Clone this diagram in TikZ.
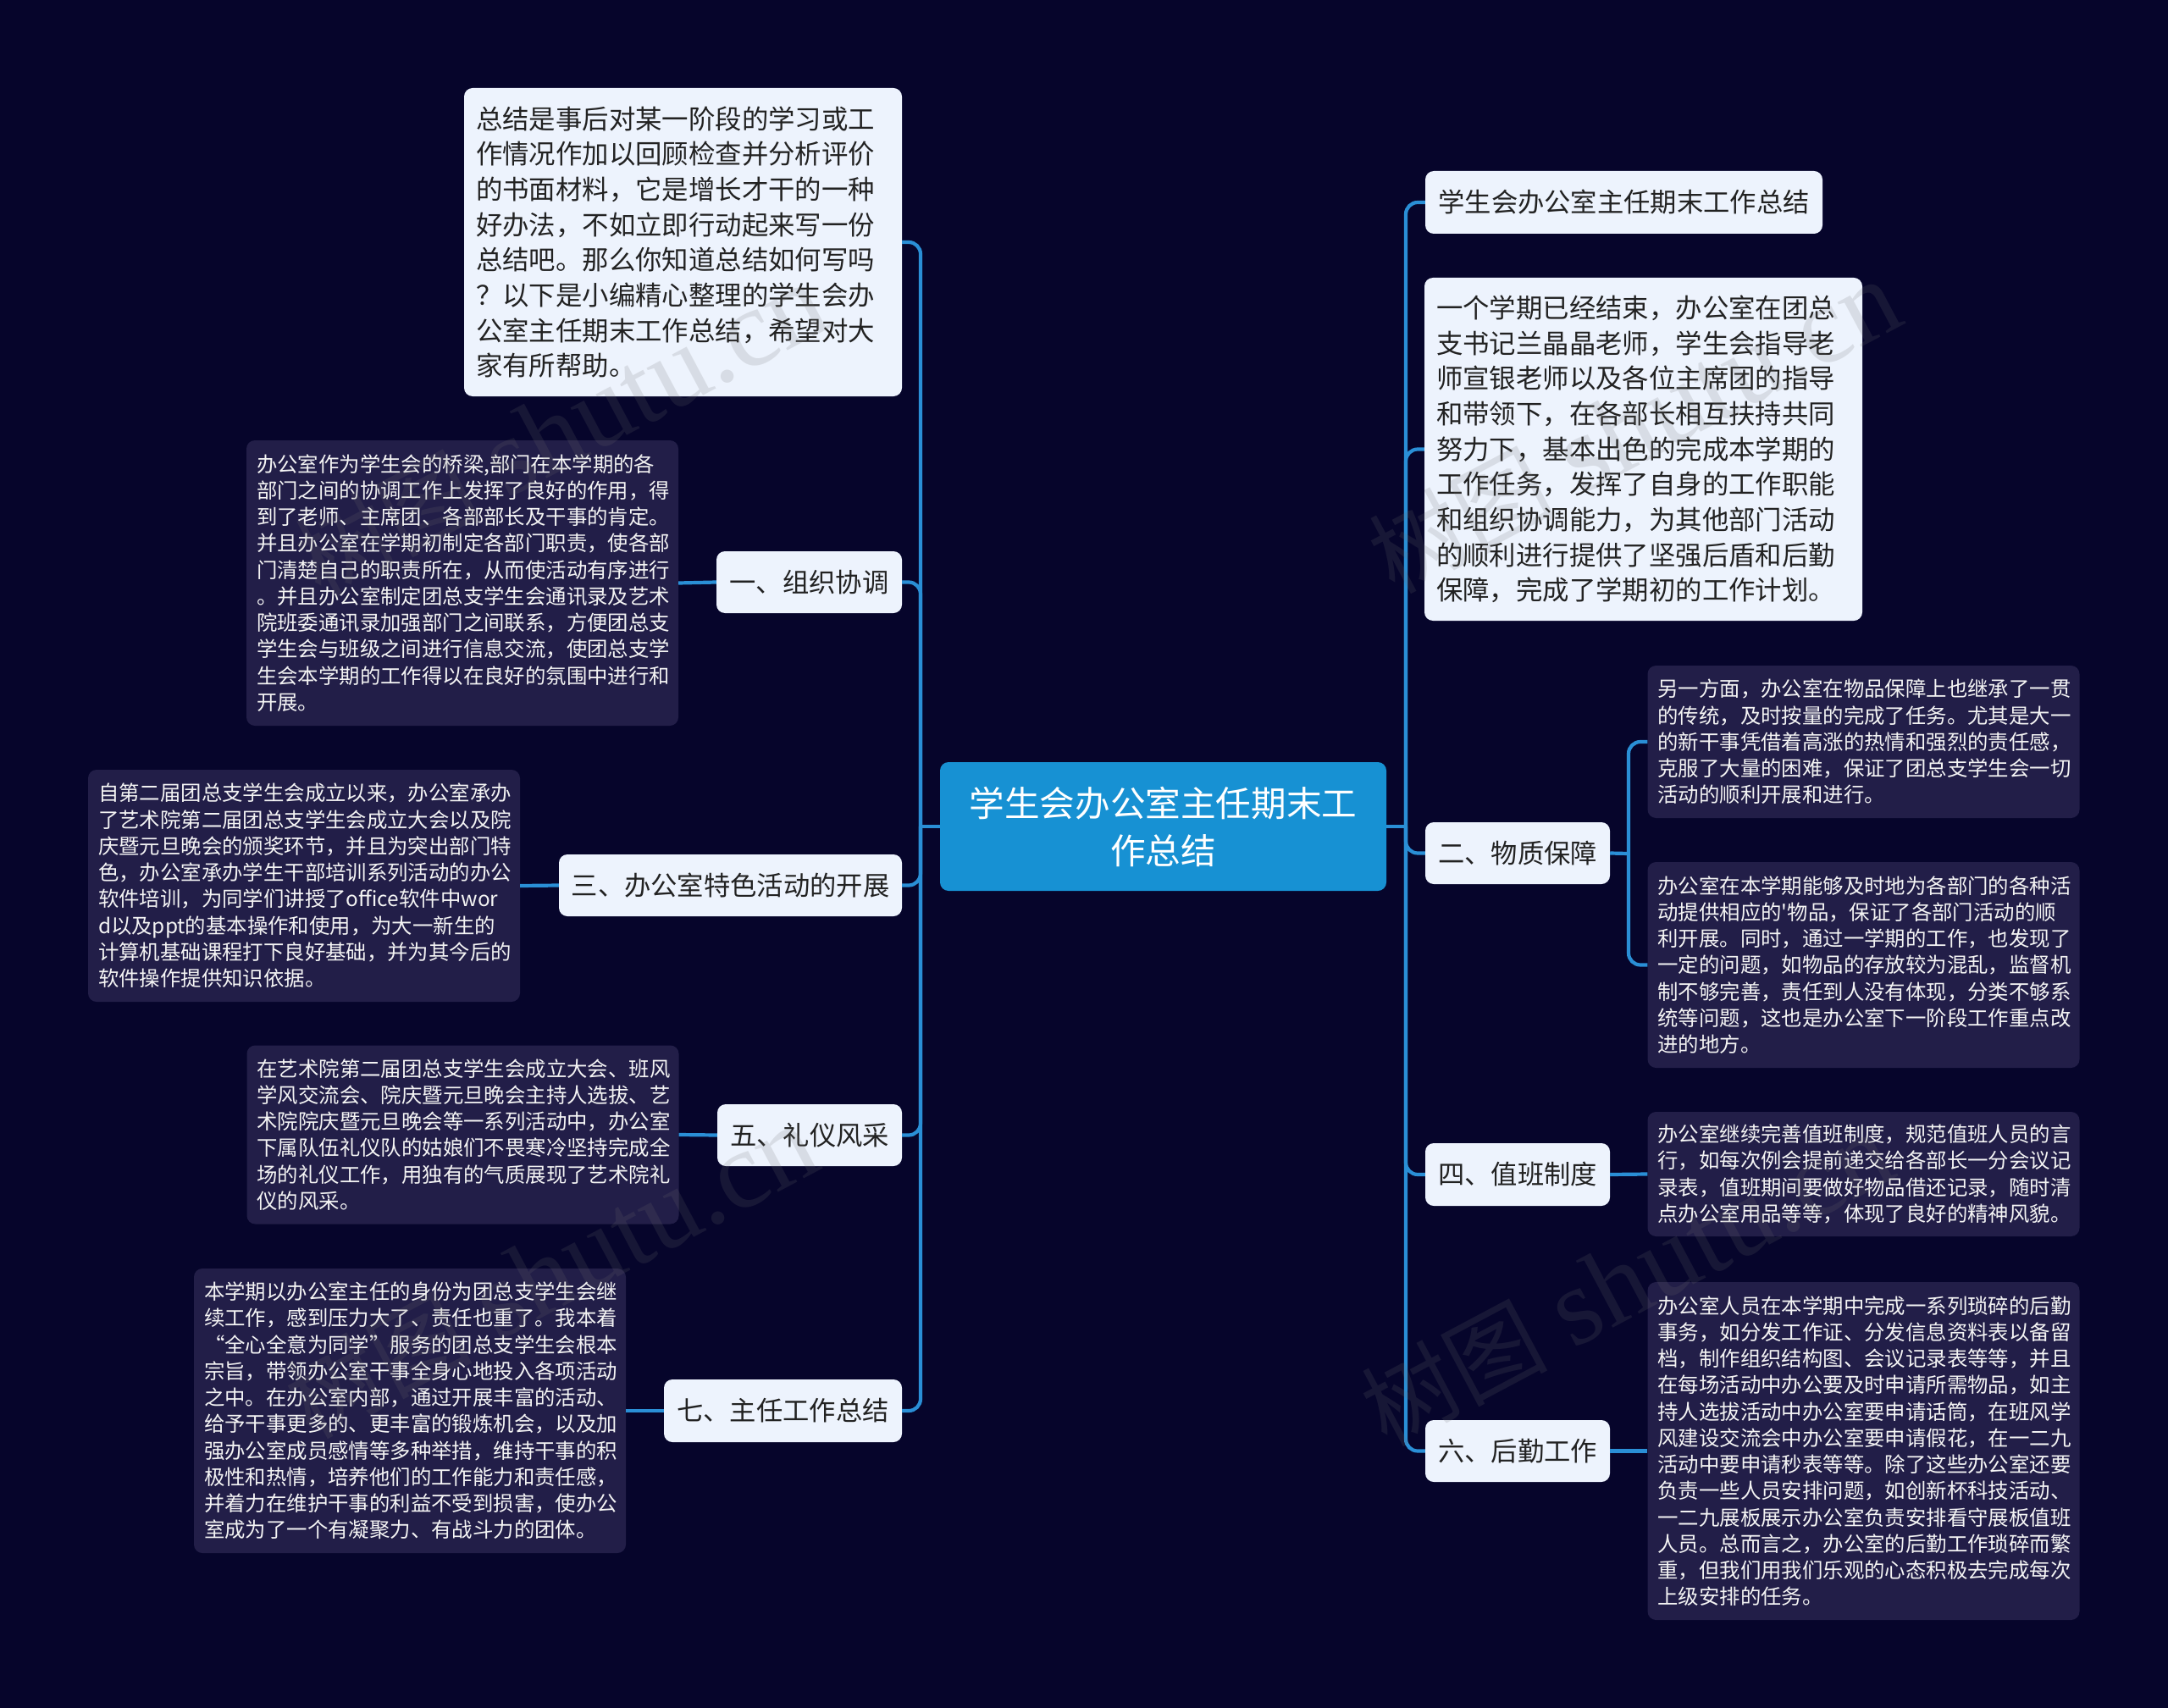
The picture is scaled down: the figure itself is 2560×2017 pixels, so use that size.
\documentclass[tikz,border=0pt]{standalone}
\usepackage{fontspec}
\setmainfont{Noto Sans CJK SC}
\newfontfamily\wmfont{Liberation Serif}
\newfontfamily\plainlatin{Noto Sans CJK SC}
\definecolor{bgc}{HTML}{06052B}
\definecolor{darkbox}{HTML}{221E48}
\definecolor{lightbox}{HTML}{EDF3FD}
\definecolor{rootc}{HTML}{1791D3}
\definecolor{linec}{HTML}{2A8FD6}
\definecolor{darktext}{HTML}{222222}
\definecolor{lighttext}{HTML}{F4F4F4}
\definecolor{wmc}{HTML}{707070}
\newcommand{\openq}{\makebox[1em][r]{“}}
\newcommand{\closeq}{\makebox[1em][l]{”}}
\newcommand{\wmtext}{{\fontsize{110}{130}\selectfont 树图} {\wmfont shutu.cn}}
\tikzset{
  x=1pt,y=-1pt,
  conn/.style={draw=linec,line width=4.2pt,rounded corners=14pt},
  plain/.style={draw=linec,line width=4.2pt},
  rootbox/.style={fill=rootc,rounded corners=10pt,text=white,align=center,inner sep=0pt,
    font=\fontsize{41.6}{56}\selectfont,minimum width=527pt,minimum height=152pt},
  topicbox/.style={fill=lightbox,rounded corners=10pt,text=darktext,inner sep=0pt,align=center,
    font=\fontsize{31.3}{41.5}\selectfont},
  textbox/.style={fill=lightbox,rounded corners=10pt,text=darktext,inner xsep=14pt,inner ysep=0pt,align=left,
    font=\fontsize{31.4}{41.7}\selectfont},
  notebox/.style={fill=darkbox,rounded corners=10pt,text=lighttext,inner xsep=12pt,inner ysep=0pt,align=left,
    text width=486pt,minimum width=510pt,font=\fontsize{24.4}{31.25}\selectfont},
  wmark/.style={text=wmc,text opacity=0.17,rotate=28,inner sep=0pt,font=\fontsize{130}{130}\selectfont}
}
\begin{document}
\begin{tikzpicture}
\useasboundingbox (0,0) rectangle (2560,2017);
\fill[bgc] (0,0) rectangle (2560,2017);
\coordinate (rt) at (1660,976);
\coordinate (lt) at (1087,976);
\coordinate (st) at (1923,1008);

\node[rootbox] (root) at (1373.5,976) {学生会办公室主任期末工\\作总结};

% left side
\node[textbox,text width=489pt,minimum width=517pt,minimum height=364pt] (intro) at (806.5,286) {总结是事后对某一阶段的学习或工\\作情况作加以回顾检查并分析评价\\的书面材料，它是增长才干的一种\\好办法，不如立即行动起来写一份\\总结吧。那么你知道总结如何写吗\\？以下是小编精心整理的学生会办\\公室主任期末工作总结，希望对大\\家有所帮助。};
\node[topicbox,minimum width=219pt,minimum height=73pt] (t1) at (955.5,687.5) {一、组织协调};
\node[topicbox,minimum width=405pt,minimum height=73pt] (t3) at (862.5,1045.5) {三、办公室特色活动的开展};
\node[topicbox,minimum width=218pt,minimum height=73pt] (t5) at (956,1340.5) {五、礼仪风采};
\node[topicbox,minimum width=281pt,minimum height=74pt] (t7) at (924.5,1666) {七、主任工作总结};

\node[notebox,minimum height=337pt] (n1) at (546,688.5) {办公室作为学生会的桥梁,部门在本学期的各\\部门之间的协调工作上发挥了良好的作用，得\\到了老师、主席团、各部部长及干事的肯定。\\并且办公室在学期初制定各部门职责，使各部\\门清楚自己的职责所在，从而使活动有序进行\\。并且办公室制定团总支学生会通讯录及艺术\\院班委通讯录加强部门之间联系，方便团总支\\学生会与班级之间进行信息交流，使团总支学\\生会本学期的工作得以在良好的氛围中进行和\\开展。};
\node[notebox,minimum height=274pt] (n3) at (359,1046) {自第二届团总支学生会成立以来，办公室承办\\了艺术院第二届团总支学生会成立大会以及院\\庆暨元旦晚会的颁奖环节，并且为突出部门特\\色，办公室承办学生干部培训系列活动的办公\\软件培训，为同学们讲授了office软件中wor\\d以及ppt的基本操作和使用，为大一新生的\\计算机基础课程打下良好基础，并为其今后的\\软件操作提供知识依据。};
\node[notebox,minimum height=211pt] (n5) at (546.5,1340) {在艺术院第二届团总支学生会成立大会、班风\\学风交流会、院庆暨元旦晚会主持人选拔、艺\\术院院庆暨元旦晚会等一系列活动中，办公室\\下属队伍礼仪队的姑娘们不畏寒冷坚持完成全\\场的礼仪工作，用独有的气质展现了艺术院礼\\仪的风采。};
\node[notebox,minimum height=336pt] (n7) at (484,1666) {本学期以办公室主任的身份为团总支学生会继\\续工作，感到压力大了、责任也重了。我本着\\\openq 全心全意为同学\closeq 服务的团总支学生会根本\\宗旨，带领办公室干事全身心地投入各项活动\\之中。在办公室内部，通过开展丰富的活动、\\给予干事更多的、更丰富的锻炼机会，以及加\\强办公室成员感情等多种举措，维持干事的积\\极性和热情，培养他们的工作能力和责任感，\\并着力在维护干事的利益不受到损害，使办公\\室成为了一个有凝聚力、有战斗力的团体。};

% right side
\node[topicbox,minimum width=469pt,minimum height=74pt] (title) at (1917.5,239) {学生会办公室主任期末工作总结};
\node[textbox,text width=489pt,minimum width=517pt,minimum height=405pt] (lead) at (1940.5,530.5) {一个学期已经结束，办公室在团总\\支书记兰晶晶老师，学生会指导老\\师宣银老师以及各位主席团的指导\\和带领下，在各部长相互扶持共同\\努力下，基本出色的完成本学期的\\工作任务，发挥了自身的工作职能\\和组织协调能力，为其他部门活动\\的顺利进行提供了坚强后盾和后勤\\保障，完成了学期初的工作计划。};
\node[topicbox,minimum width=218pt,minimum height=73pt] (t2) at (1792,1007.5) {二、物质保障};
\node[topicbox,minimum width=218pt,minimum height=74pt] (t4) at (1792,1387) {四、值班制度};
\node[topicbox,minimum width=218pt,minimum height=73pt] (t6) at (1792,1713.5) {六、后勤工作};

\node[notebox,minimum height=180pt] (n2a) at (2200.5,876) {另一方面，办公室在物品保障上也继承了一贯\\的传统，及时按量的完成了任务。尤其是大一\\的新干事凭借着高涨的热情和强烈的责任感，\\克服了大量的困难，保证了团总支学生会一切\\活动的顺利开展和进行。};
\node[notebox,minimum height=243pt] (n2b) at (2200.5,1139.5) {办公室在本学期能够及时地为各部门的各种活\\动提供相应的{\plainlatin\char39}物品，保证了各部门活动的顺\\利开展。同时，通过一学期的工作，也发现了\\一定的问题，如物品的存放较为混乱，监督机\\制不够完善，责任到人没有体现，分类不够系\\统等问题，这也是办公室下一阶段工作重点改\\进的地方。};
\node[notebox,minimum height=147pt] (n4) at (2200.5,1386.5) {办公室继续完善值班制度，规范值班人员的言\\行，如每次例会提前递交给各部长一分会议记\\录表，值班期间要做好物品借还记录，随时清\\点办公室用品等等，体现了良好的精神风貌。};
\node[notebox,minimum height=399pt] (n6) at (2200.5,1713.5) {办公室人员在本学期中完成一系列琐碎的后勤\\事务，如分发工作证、分发信息资料表以备留\\档，制作组织结构图、会议记录表等等，并且\\在每场活动中办公要及时申请所需物品，如主\\持人选拔活动中办公室要申请话筒，在班风学\\风建设交流会中办公室要申请假花，在一二九\\活动中要申请秒表等等。除了这些办公室还要\\负责一些人员安排问题，如创新杯科技活动、\\一二九展板展示办公室负责安排看守展板值班\\人员。总而言之，办公室的后勤工作琐碎而繁\\重，但我们用我们乐观的心态积极去完成每次\\上级安排的任务。};

% connectors
\draw[plain] (root.east) -- (rt);
\draw[plain] (root.west) -- (lt);
\foreach \n in {title,lead,t2,t4,t6} \draw[conn] (rt) |- (\n.west);
\foreach \n in {intro,t1,t3,t5,t7} \draw[conn] (lt) |- (\n.east);
\draw[plain] (t1.west) -- (n1.east);
\draw[plain] (t3.west) -- (n3.east);
\draw[plain] (t5.west) -- (n5.east);
\draw[plain] (t7.west) -- (n7.east);
\draw[plain] (t2.east) -- (st);
\draw[conn] (st) |- (n2a.west);
\draw[conn] (st) |- (n2b.west);
\draw[plain] (t4.east) -- (n4.west);
\draw[plain] (t6.east) -- (n6.west);

% watermarks
\node[wmark] (wm1) at (662,509) {\wmtext};
\node[wmark] (wm2) at (651,1503) {\wmtext};
\node[wmark] (wm3) at (1930,505) {\wmtext};
\node[wmark] (wm4) at (1921,1512) {\wmtext};
\end{tikzpicture}
\end{document}
